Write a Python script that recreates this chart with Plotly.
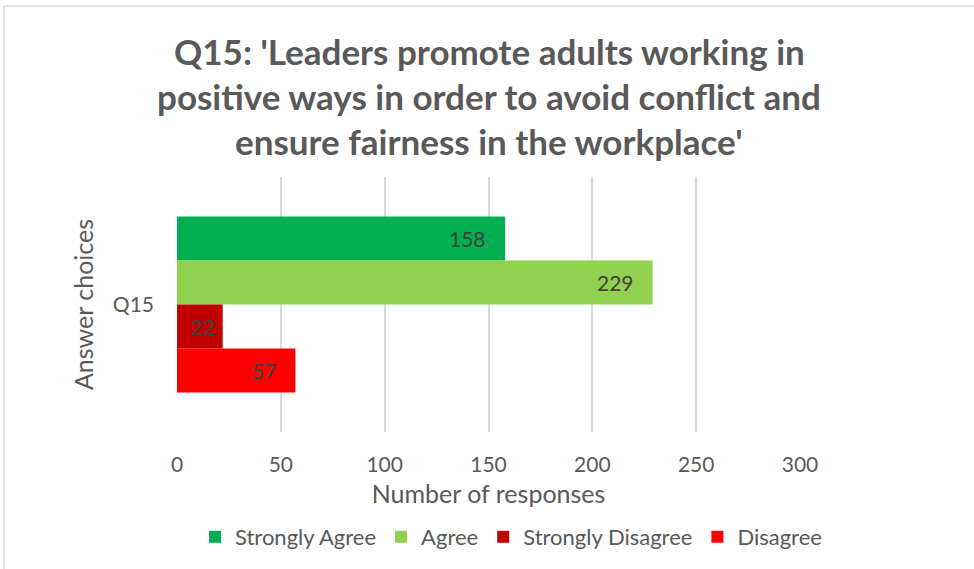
import plotly.graph_objects as go

# Survey responses for question Q15
category = ["Q15"]
answer_choices = ["Strongly Agree", "Agree", "Strongly Disagree", "Disagree"]
responses = [158, 229, 22, 57]
bar_colors = ["#00B050", "#92D050", "#C00000", "#FF0000"]

title_lines = [
    "Q15: 'Leaders promote adults working in",
    "positive ways in order to avoid conflict and",
    "ensure fairness in the workplace'",
]
x_ticks = [0, 50, 100, 150, 200, 250, 300]
x_max = 300

W, H = 974, 569
M_L, M_R, M_T, M_B = 20, 20, 177, 137
PLOT_X0, PLOT_X1 = 177, 800          # pixel extent of the value axis
FONT = "Lato, Carlito, Calibri, sans-serif"
LABEL_SIZE = 21

paper_w = W - M_L - M_R
plot_h = H - M_T - M_B


def px_x(p):
    return (p - M_L) / paper_w


def px_y(p):
    return (H - M_B - p) / plot_h


fig = go.Figure()
for name, val, col in zip(answer_choices, responses, bar_colors):
    fig.add_trace(go.Bar(
        y=category, x=[val], name=name, orientation="h",
        marker=dict(color=col, line=dict(width=0)),
        textposition="none", hoverinfo="x+name",
    ))

# Value labels at the inner end of each bar, offset to each bar's slot in the group
n = len(responses)
bargap = 0.31
bar_h = plot_h * (1 - bargap) / n
px_per_unit = (PLOT_X1 - PLOT_X0) / x_max
for i, val in enumerate(responses):
    txt = str(val)
    label_w = 0.58 * LABEL_SIZE * len(txt)
    pad = 17 if val * px_per_unit > label_w + 30 else 6
    fig.add_annotation(
        x=val, y=category[0], xref="x", yref="y",
        text=txt, showarrow=False, xanchor="right", yanchor="middle",
        xshift=-pad, yshift=((n - 1) / 2 - i) * bar_h,
        font=dict(family=FONT, size=LABEL_SIZE, color="#404040"),
    )

# Title lines placed individually for Excel-like line spacing
for i, line in enumerate(title_lines):
    fig.add_annotation(
        text=f"<b>{line}</b>", xref="paper", yref="paper",
        x=px_x(489), y=px_y(51 + i * 45), xanchor="center", yanchor="middle",
        showarrow=False, font=dict(family=FONT, size=35, color="#595959"),
    )

# Chart border (top and left edges)
border = dict(color="#D9D9D9", width=1.5)
fig.add_shape(type="line", xref="paper", yref="paper",
              x0=px_x(4), x1=px_x(W + 10), y0=px_y(6), y1=px_y(6), line=border)
fig.add_shape(type="line", xref="paper", yref="paper",
              x0=px_x(4), x1=px_x(4), y0=px_y(6), y1=px_y(H + 10), line=border)

fig.update_layout(
    width=W, height=H,
    margin=dict(l=M_L, r=M_R, t=M_T, b=M_B, autoexpand=False),
    paper_bgcolor="white", plot_bgcolor="white",
    barmode="group", bargap=bargap, bargroupgap=0,
    font=dict(family=FONT, color="#595959"),
    showlegend=True,
    legend=dict(orientation="h", x=px_x(511), xanchor="center",
                yref="container", y=1 - 537 / H, yanchor="middle",
                font=dict(family=FONT, size=22, color="#595959"),
                itemclick=False, itemdoubleclick=False),
    xaxis=dict(domain=[px_x(PLOT_X0), px_x(PLOT_X1)],
               range=[0, x_max], tickvals=x_ticks, showgrid=True, gridcolor="#D9D9D9",
               gridwidth=1.5, zeroline=False, showline=False, ticks="",
               ticklabelstandoff=18, automargin=False,
               tickfont=dict(family=FONT, size=21, color="#595959"),
               title=dict(text="Number of responses", standoff=10,
                          font=dict(family=FONT, size=25, color="#595959"))),
    yaxis=dict(autorange="reversed", showgrid=False, zeroline=False, showline=False,
               ticks="", ticklabelstandoff=22, automargin=False,
               tickfont=dict(family=FONT, size=21, color="#595959"),
               title=dict(text="Answer choices", standoff=12,
                          font=dict(family=FONT, size=25, color="#595959"))),
)

fig.write_html("out.html")
